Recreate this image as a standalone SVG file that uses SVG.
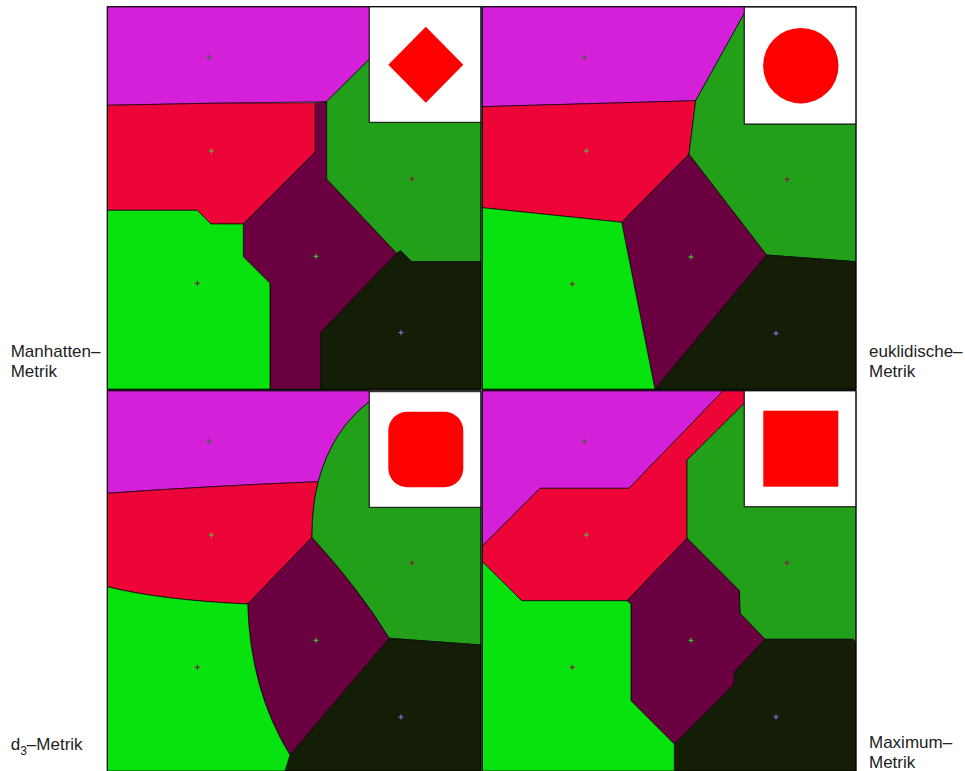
<svg xmlns="http://www.w3.org/2000/svg" width="965" height="771" viewBox="0 0 965 771">
<style>
.m{fill:#D520D9}.r{fill:#EE0538}.dg{fill:#23A019}.lg{fill:#08E20E}.p{fill:#6B0040}.k{fill:#141E06}
.reg{stroke:#000;stroke-width:0.7;stroke-linejoin:round}
.ins{fill:#fff;stroke:#111;stroke-width:1}
.shape{fill:#FF0000}
.lbl{font-family:"Liberation Sans",Arial,sans-serif;font-size:17px;fill:#222}
.s{fill:none;stroke-width:1}
.frame{fill:none;stroke:#000;stroke-width:1}
</style>
<defs>
<path id="cross" d="M-2.5,0H2.5M0,-2.5V2.5"/>
</defs>
<rect width="965" height="771" fill="#fff"/>

<g id="panel-manhattan">
<polygon class="m reg" points="107.3,6.7 369.3,6.7 369.3,59.3 326,101.7 210,103.3 107.3,105.3"/>
<polygon class="r reg" points="107.3,105.3 210,103.3 315.3,102.7 315.3,151.7 243.3,224 211,224 197.3,210.3 107.3,210.3"/>
<polygon class="p reg" points="315.3,102.7 326.7,101.7 326.7,179 396.7,253.3 320.7,332.7 320.7,389.3 270,389.3 270,283.3 243.3,256.7 243.3,224 315.3,151.7"/>
<polygon class="dg reg" points="369.3,59.3 369.3,122.3 481,122.3 481,261.7 411.7,261.7 400.7,250.7 396.7,253.3 326.7,179 326.7,101.7"/>
<polygon class="k reg" points="396.7,253.3 400.7,250.7 411.7,261.7 481,261.7 481,389.3 320.7,389.3 320.7,332.7"/>
<polygon class="lg reg" points="107.3,210.3 197.3,210.3 211,224 243.3,224 243.3,256.7 270,283.3 270,389.3 107.3,389.3"/>
<rect class="ins" x="369.3" y="6.7" width="111.7" height="115.6"/>
<polygon class="shape" points="425.8,26.7 463.3,64.7 425.8,102.7 388.3,64.7"/>
<use href="#cross" x="209.3" y="57.3" class="s" stroke="#2F6A30"/>
<use href="#cross" x="211.3" y="151" class="s" stroke="#4CC84C"/>
<use href="#cross" x="412" y="179" class="s" stroke="#8A1040"/>
<use href="#cross" x="197.3" y="283.3" class="s" stroke="#801040"/>
<use href="#cross" x="316" y="256.3" class="s" stroke="#30E030"/>
<use href="#cross" x="401" y="332.7" class="s" stroke="#8080E0"/>
</g>

<g id="panel-euklid">
<polygon class="m reg" points="482.3,6.7 744.3,6.7 744.3,13.3 695.7,100.7 482.3,106.7"/>
<polygon class="r reg" points="482.3,106.7 695.7,100.7 689,154 621.7,222.3 482.3,207.7"/>
<polygon class="p reg" points="689,154 766.7,255 655,389.3 621.7,222.3"/>
<polygon class="dg reg" points="744.3,13.3 744.3,124 856,124 856,261.7 766.7,255 689,154 695.7,100.7"/>
<polygon class="k reg" points="766.7,255 856,261.7 856,389.3 655,389.3"/>
<polygon class="lg reg" points="482.3,207.7 621.7,222.3 655,389.3 482.3,389.3"/>
<rect class="ins" x="744.3" y="7" width="111.7" height="117"/>
<circle class="shape" cx="800.8" cy="65.7" r="37.7"/>
<use href="#cross" x="584.3" y="57.3" class="s" stroke="#2F6A30"/>
<use href="#cross" x="586.3" y="151" class="s" stroke="#4CC84C"/>
<use href="#cross" x="787" y="179.3" class="s" stroke="#8A1040"/>
<use href="#cross" x="572.3" y="284" class="s" stroke="#801040"/>
<use href="#cross" x="691" y="257" class="s" stroke="#30E030"/>
<use href="#cross" x="776" y="333.3" class="s" stroke="#8080E0"/>
</g>

<g id="panel-d3">
<path class="m reg" d="M107.3,390.7H369.3V401.7Q332,430 318.3,481.7Q210,486 107.3,493.3Z"/>
<path class="r reg" d="M107.3,493.3Q210,486 318.3,481.7Q312,505 312,537.3L247.7,604Q160,600 107.3,586.7Z"/>
<path class="p reg" d="M312,537.3Q360,590 389.3,638.3L290,755Q250,690 247.7,604Z"/>
<path class="dg reg" d="M369.3,401.7V507.3H481V645L389.3,638.3Q360,590 312,537.3Q312,505 318.3,481.7Q332,430 369.3,401.7Z"/>
<path class="k reg" d="M389.3,638.3L481,645V771H285L290,755Z"/>
<path class="lg reg" d="M107.3,586.7Q160,600 247.7,604Q250,690 290,755L285,771H107.3Z"/>
<rect class="ins" x="369.3" y="391.7" width="111.7" height="115.6"/>
<rect class="shape" x="388.3" y="411.7" width="75" height="75.6" rx="19" ry="19"/>
<use href="#cross" x="209.3" y="441.3" class="s" stroke="#2F6A30"/>
<use href="#cross" x="211.3" y="535" class="s" stroke="#4CC84C"/>
<use href="#cross" x="412" y="563" class="s" stroke="#8A1040"/>
<use href="#cross" x="197.3" y="667.3" class="s" stroke="#801040"/>
<use href="#cross" x="316" y="640.3" class="s" stroke="#30E030"/>
<use href="#cross" x="401" y="717" class="s" stroke="#8080E0"/>
</g>

<g id="panel-maximum">
<polygon class="m reg" points="482.3,390.7 723.3,390.7 629,488.3 540,488.3 482.3,546"/>
<polygon class="r reg" points="723.3,390.7 744.3,390.7 744.3,403.3 687,460 687,538.3 627,600.7 521.7,600.7 482.3,561.7 482.3,546 540,488.3 629,488.3"/>
<polygon class="dg reg" points="744.3,403.3 744.3,506.7 856,506.7 856,643.3 853.3,639.3 765,639.3 740,613.3 739.3,590.7 687,538.3 687,460"/>
<polygon class="p reg" points="687,538.3 739.3,590.7 740,613.3 765,639.3 734.3,672.3 734.3,684 674.3,744 631,700.7 631,604 627,600.7"/>
<polygon class="k reg" points="765,639.3 853.3,639.3 856,643.3 856,771 674.3,771 674.3,744 734.3,684 734.3,672.3"/>
<polygon class="lg reg" points="482.3,561.7 521.7,600.7 627,600.7 631,604 631,700.7 674.3,744 674.3,771 482.3,771"/>
<rect class="ins" x="744.3" y="390.7" width="111.7" height="116"/>
<rect class="shape" x="763.3" y="410.7" width="75" height="76"/>
<use href="#cross" x="584.3" y="441.3" class="s" stroke="#2F6A30"/>
<use href="#cross" x="586.3" y="535" class="s" stroke="#4CC84C"/>
<use href="#cross" x="787" y="563" class="s" stroke="#8A1040"/>
<use href="#cross" x="572.3" y="667.3" class="s" stroke="#801040"/>
<use href="#cross" x="691" y="640.3" class="s" stroke="#30E030"/>
<use href="#cross" x="776" y="717" class="s" stroke="#8080E0"/>
</g>

<g id="frames">
<rect class="frame" x="107.3" y="6.7" width="373.7" height="382.6"/>
<rect class="frame" x="482.3" y="6.7" width="373.7" height="382.6"/>
<rect class="frame" x="107.3" y="390.7" width="373.7" height="381"/>
<rect class="frame" x="482.3" y="390.7" width="373.7" height="381"/>
</g>

<g id="labels">
<text class="lbl" x="10.7" y="357">Manhatten–</text>
<text class="lbl" x="10.7" y="377">Metrik</text>
<text class="lbl" x="869" y="357">euklidische–</text>
<text class="lbl" x="869" y="377">Metrik</text>
<text class="lbl" x="10.7" y="750">d<tspan font-size="12" dy="5">3</tspan><tspan dy="-5">–Metrik</tspan></text>
<text class="lbl" x="869" y="747.7">Maximum–</text>
<text class="lbl" x="869" y="767.5">Metrik</text>
</g>
</svg>
